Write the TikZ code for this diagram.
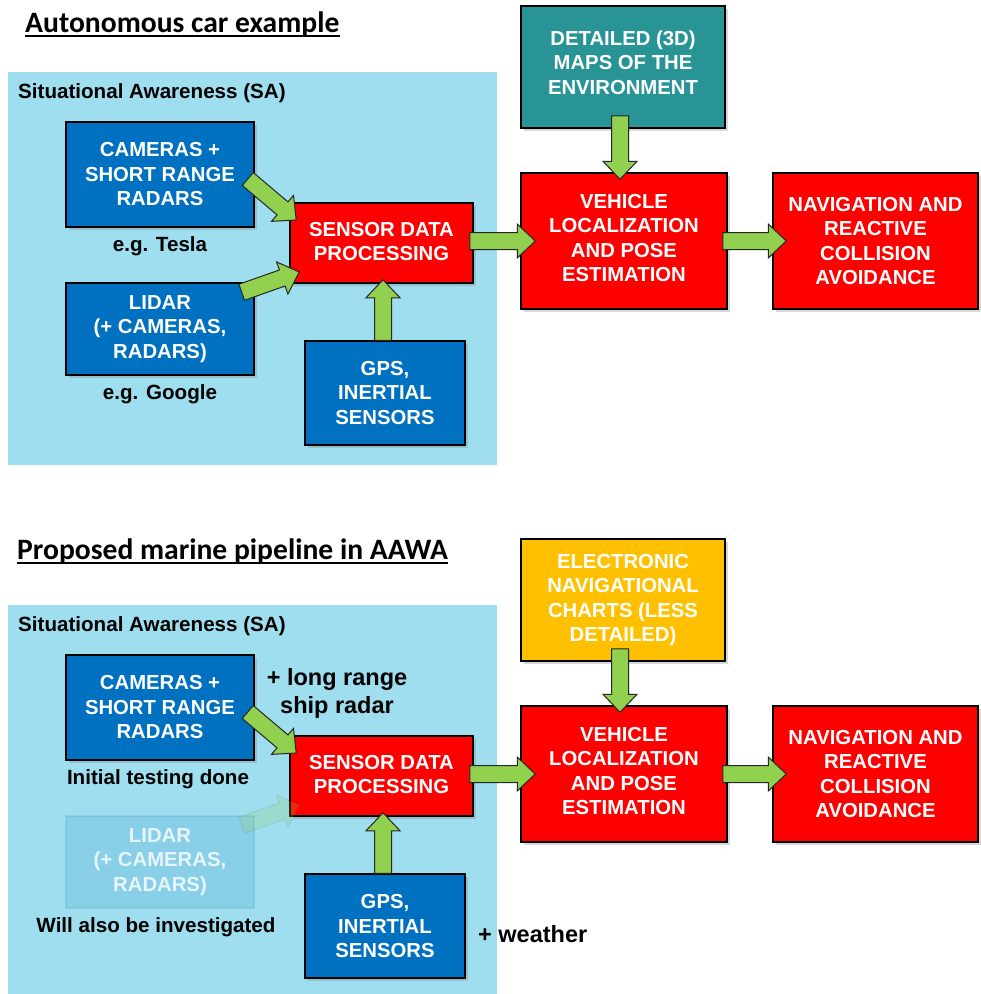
\documentclass[tikz,border=0pt]{standalone}
\usepackage{fontspec}
\setmainfont{Liberation Sans}
\newfontfamily\calibri{Carlito}
\usetikzlibrary{calc,shadows}
\definecolor{boxblue}{RGB}{0,112,192}
\definecolor{boxred}{RGB}{255,0,0}
\definecolor{boxteal}{RGB}{40,148,150}
\definecolor{boxyellow}{RGB}{255,192,0}
\definecolor{arrowgreen}{RGB}{146,208,80}
\definecolor{panelblue}{RGB}{158,222,238}
\tikzset{
  boxbase/.style={draw=black, line width=1.5pt, inner sep=0pt, align=center, text=white,
    font=\bfseries\fontsize{20.3}{24.5}\selectfont},
  box/.style={boxbase, drop shadow={opacity=0.3, shadow xshift=3pt, shadow yshift=-3pt}},
  panel/.style={fill=panelblue, draw=none, inner sep=0pt},
  lbl/.style={inner sep=0pt, font=\bfseries\fontsize{20.6}{24.5}\selectfont},
  biglbl/.style={inner sep=0pt, align=center, font=\bfseries\fontsize{23.5}{28}\selectfont},
  titletext/.style={inner sep=0pt, font=\calibri\bfseries\fontsize{29.6}{35}\selectfont},
  barrow/.style={fill=arrowgreen, draw=black!85, line width=1pt, line join=miter},
}
\newcommand\blockarrow[3][]{%
  \coordinate (hb) at ($(#3)!18pt!(#2)$);
  \draw[barrow,#1] ($(#2)!8.5pt!90:(#3)$) -- ($(hb)!8.5pt!90:(#3)$) -- ($(hb)!17pt!90:(#3)$)
    -- (#3) -- ($(hb)!17pt!-90:(#3)$) -- ($(hb)!8.5pt!-90:(#3)$) -- ($(#2)!8.5pt!-90:(#3)$) -- cycle;}
\begin{document}
\begin{tikzpicture}[x=1pt,y=-1pt]
\useasboundingbox (0,0) rectangle (981,994);
\fill[white] (0,0) rectangle (981,994);

% ---------------- Section 1 ----------------
\node[titletext, anchor=base west] (t1) at (25,32) {Autonomous car example};
\draw[line width=2pt] ($(t1.base west)+(0,4)$) -- ($(t1.base east)+(0,4)$);

\node[panel, minimum width=489pt, minimum height=393pt] (sa1) at (252.5,268.5) {};
\node[lbl, anchor=west] (sal1) at (18,93) {Situational Awareness (SA)};

\node[box, fill=boxblue, minimum width=188pt, minimum height=105pt] (cam1) at (160,174.5) {CAMERAS +\\SHORT RANGE\\RADARS};
\node[lbl] (tesla) at (160,246) {e.g. Tesla};
\node[box, fill=boxblue, minimum width=188pt, minimum height=92pt] (lid1) at (160,329) {LIDAR\\(+ CAMERAS,\\RADARS)};
\node[lbl] (google) at (160,394) {e.g. Google};
\node[box, fill=boxred, minimum width=183pt, minimum height=80pt, text depth=3pt] (sdp1) at (381.5,243) {SENSOR DATA\\PROCESSING};
\node[box, fill=boxblue, minimum width=160pt, minimum height=104pt] (gps1) at (385,393) {GPS,\\INERTIAL\\SENSORS};
\node[box, fill=boxteal, minimum width=204pt, minimum height=122pt, text depth=9pt] (maps) at (623,67) {DETAILED (3D)\\MAPS OF THE\\ENVIRONMENT};
\node[box, fill=boxred, minimum width=206pt, minimum height=136pt, text depth=6pt] (veh1) at (624,241) {VEHICLE\\LOCALIZATION\\AND POSE\\ESTIMATION};
\node[box, fill=boxred, minimum width=205pt, minimum height=136pt] (nav1) at (875.5,241) {NAVIGATION AND\\REACTIVE\\COLLISION\\AVOIDANCE};

\blockarrow{$(cam1.east)+(-7,4.5)$}{$(sdp1.west)+(7,-23)$}
\blockarrow{$(lid1.north east)+(-13,10)$}{$(sdp1.west)+(10,29)$}
\blockarrow{$(gps1.north)+(-2,0)$}{$(sdp1.south)+(1.5,-4)$}
\blockarrow{$(sdp1.east)+(-4,-2)$}{$(veh1.west)+(15,0)$}
\blockarrow{$(maps.south)+(-3,-13)$}{$(veh1.north)+(-4,7)$}
\blockarrow{$(veh1.east)+(-5,0)$}{$(nav1.west)+(14,0)$}

% ---------------- Section 2 ----------------
\node[titletext, anchor=base west] (t2) at (17,559) {Proposed marine pipeline in AAWA};
\draw[line width=2pt] ($(t2.base west)+(0,4)$) -- ($(t2.base east)+(0,4)$);

\node[panel, minimum width=489pt, minimum height=389pt] (sa2) at (252.5,799.5) {};
\node[lbl, anchor=west] (sal2) at (18,626) {Situational Awareness (SA)};

\node[box, fill=boxblue, minimum width=188pt, minimum height=105pt] (cam2) at (160,707.5) {CAMERAS +\\SHORT RANGE\\RADARS};
\node[biglbl] (longr) at (337,693) {+ long range\\ship radar};
\node[lbl] (init) at (158,779) {Initial testing done};
\node[boxbase, fill=boxblue, fill opacity=0.13, draw=boxblue, draw opacity=0.12, text opacity=0.8, minimum width=188pt, minimum height=92pt] (lid2) at (160,862) {LIDAR\\(+ CAMERAS,\\RADARS)};
\node[lbl] (will) at (156,927) {Will also be investigated};
\node[box, fill=boxred, minimum width=183pt, minimum height=80pt, text depth=3pt] (sdp2) at (381.5,776) {SENSOR DATA\\PROCESSING};
\node[box, fill=boxblue, minimum width=160pt, minimum height=104pt] (gps2) at (385,926) {GPS,\\INERTIAL\\SENSORS};
\node[biglbl, anchor=west] (weather) at (478,934) {+ weather};
\node[box, fill=boxyellow, minimum width=204pt, minimum height=122pt] (charts) at (623,600) {ELECTRONIC\\NAVIGATIONAL\\CHARTS (LESS\\DETAILED)};
\node[box, fill=boxred, minimum width=206pt, minimum height=136pt, text depth=6pt] (veh2) at (624,774) {VEHICLE\\LOCALIZATION\\AND POSE\\ESTIMATION};
\node[box, fill=boxred, minimum width=205pt, minimum height=136pt] (nav2) at (875.5,774) {NAVIGATION AND\\REACTIVE\\COLLISION\\AVOIDANCE};

\blockarrow{$(cam2.east)+(-7,4.5)$}{$(sdp2.west)+(7,-23)$}
\blockarrow[fill opacity=0.2, draw opacity=0.08]{$(lid2.north east)+(-13,10)$}{$(sdp2.west)+(10,29)$}
\blockarrow{$(gps2.north)+(-2,0)$}{$(sdp2.south)+(1.5,-4)$}
\blockarrow{$(sdp2.east)+(-4,-2)$}{$(veh2.west)+(15,0)$}
\blockarrow{$(charts.south)+(-3,-13)$}{$(veh2.north)+(-4,7)$}
\blockarrow{$(veh2.east)+(-5,0)$}{$(nav2.west)+(14,0)$}
\end{tikzpicture}
\end{document}
